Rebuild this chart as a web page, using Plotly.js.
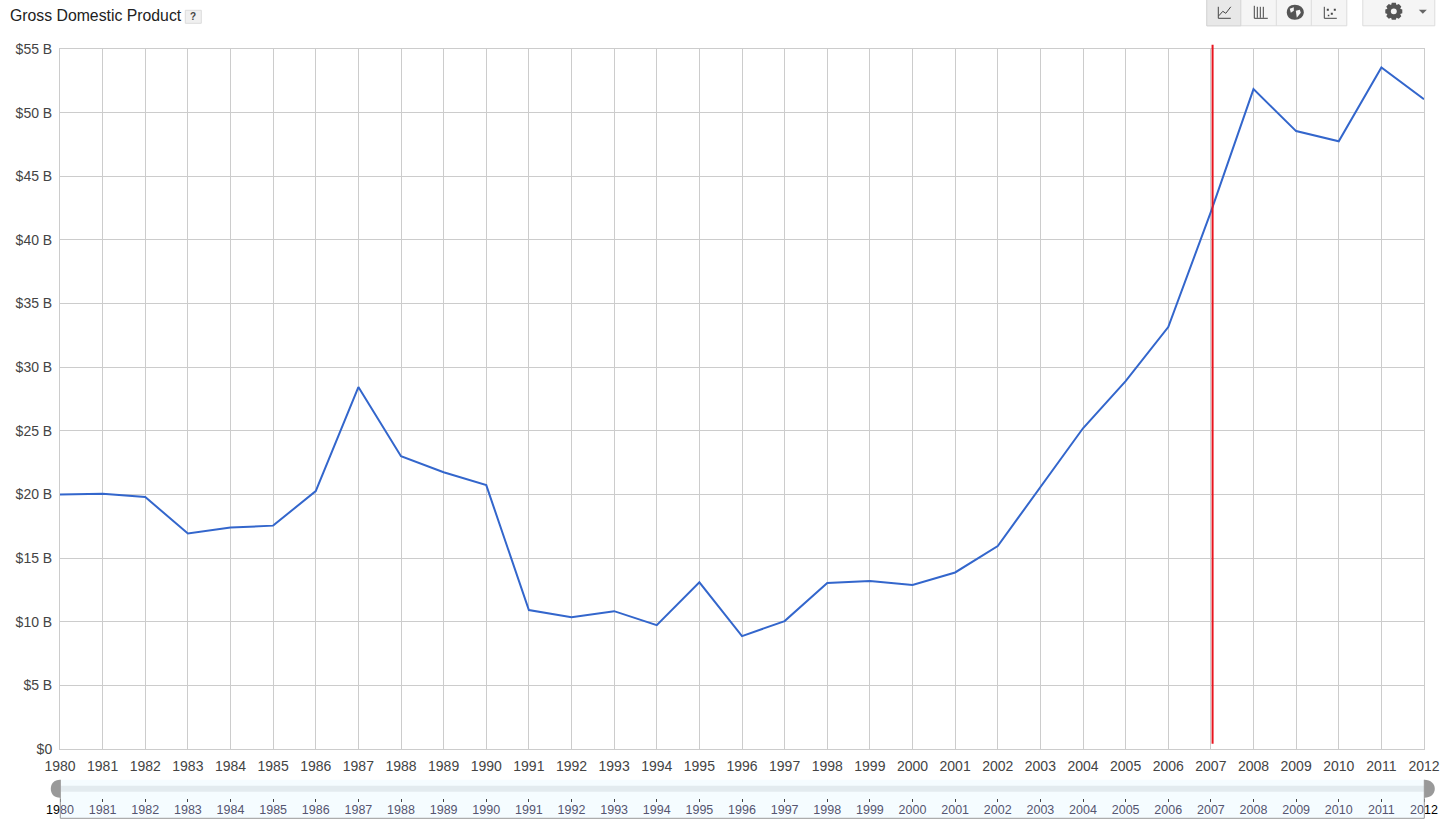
<!DOCTYPE html>
<html><head><meta charset="utf-8">
<script src="https://cdn.plot.ly/plotly-3.0.1.min.js"></script>
<style>html,body{margin:0;padding:0;background:#fff;overflow:hidden}#c{width:1440px;height:826px}</style>
</head><body><div id="c"></div>
<script>
const years=[1980,1981,1982,1983,1984,1985,1986,1987,1988,1989,1990,1991,1992,1993,1994,1995,1996,1997,1998,1999,2000,2001,2002,2003,2004,2005,2006,2007,2008,2009,2010,2011,2012];
const gdpBillions=[20.0,20.05,19.8,16.93,17.4,17.55,20.27,28.44,23.0,21.75,20.73,10.92,10.35,10.83,9.73,13.1,8.87,10.05,13.05,13.2,12.88,13.87,15.95,20.6,25.2,28.9,33.15,42.2,51.85,48.55,47.75,53.55,51.05];
const yTicks=[0,5,10,15,20,25,30,35,40,45,50,55];
const yTickLabels=['$0','$5 B','$10 B','$15 B','$20 B','$25 B','$30 B','$35 B','$40 B','$45 B','$50 B','$55 B'];
const markerYear=2007.04;
const titleText='Gross Domestic Product';
const selectorLabels=years.map(String);
selectorLabels[0]='<span style="color:#000">19</span>80';
selectorLabels[selectorLabels.length-1]='20<span style="color:#000">12</span>';

const L=60.2,R=1424.2,T=49.2,B=819.2;
const fx=p=>(p-L)/(R-L), fy=p=>(B-p)/(B-T);
const font='Arial, "Liberation Sans", sans-serif';
const P=(s)=>s.replace(/(-?[\d.]+),(-?[\d.]+)/g,(m,a,b)=>fx(+a)+','+fy(+b));
const pathShape=(d,o)=>Object.assign({type:'path',xref:'paper',yref:'paper',path:P(d),line:{width:0}},o);
const rect=(x0,y0,x1,y1,fill,line)=>({type:'rect',xref:'paper',yref:'paper',x0:fx(x0),x1:fx(x1),y0:fy(y0),y1:fy(y1),fillcolor:fill,line:line||{width:0},layer:'below'});
const stroke=(d,c,w)=>pathShape(d,{line:{color:c,width:w||1},fillcolor:'rgba(0,0,0,0)'});

const shapes=[
 rect(60.5,780,1424.5,818.5,'#f5fcff'),
 rect(60.5,786,1424.5,792,'#e3ebef'),
 stroke('M60.5,780 L60.5,818.5 L1424.5,818.5 L1424.5,780','#999',1),
 pathShape('M60.5,780 C54,780 51,784 51,789 C51,794 54,798 60.5,798 Z',{fillcolor:'#999'}),
 pathShape('M1424.5,780 C1431,780 1435,784 1435,789 C1435,794 1431,798 1424.5,798 Z',{fillcolor:'#999'}),
 Object.assign(rect(185.5,10.5,201.5,23.5,'#f0f0f0',{color:'#dcdcdc',width:1}),{layer:'above'}),
 Object.assign(rect(1207,-2,1347,26,'#f5f5f5',{color:'#dcdcdc',width:1}),{layer:'above'}),
 Object.assign(rect(1207,-2,1241,26,'#e8e8e8',{color:'#d4d4d4',width:1}),{layer:'above'}),
 stroke('M1276.5,0 L1276.5,26','#dcdcdc',1),
 stroke('M1311.5,0 L1311.5,26','#dcdcdc',1),
 Object.assign(rect(1363,-2,1435,26,'#f5f5f5',{color:'#dcdcdc',width:1}),{layer:'above'}),
 stroke('M1218.5,7 L1218.5,18.5 L1231,18.5','#444',1),
 stroke('M1219,16 L1223,11.5 L1226,13.5 L1231,7','#444',1),
 stroke('M1254.5,6 L1254.5,18.5 L1268,18.5','#444',1),
 stroke('M1257.5,18 L1257.5,7 M1260.5,18 L1260.5,7 M1263.5,18 L1263.5,7','#444',1),
 pathShape('M1295,5 C1300,5 1304,8 1304,12.5 C1304,17 1300,20 1295,20 C1290,20 1287,17 1287,12.5 C1287,8 1290,5 1295,5 Z',{fillcolor:'#555'}),
 pathShape('M1290,9 L1294,7.5 L1294,11 L1291,13 Z M1296,11 L1300,10 L1301,13 L1297,18 Z',{fillcolor:'#f5f5f5'}),
 stroke('M1324.5,7 L1324.5,18.5 L1337,18.5','#444',1),
 pathShape('M1327,9 L1329,9 L1329,11 L1327,11 Z M1331,13 L1333,13 L1333,15 L1331,15 Z M1334,9 L1336,9 L1336,11 L1334,11 Z M1328,15 L1329.5,15 L1329.5,16.5 L1328,16.5 Z',{fillcolor:'#444'}),
 pathShape('M1392,3 L1396,3 L1396.7,5.3 L1399,4.3 L1401.5,6.8 L1400.4,9 L1402.5,9.8 L1402.5,13.4 L1400.4,14.2 L1401.5,16.4 L1399,18.9 L1396.7,17.9 L1396,20 L1392,20 L1391.3,17.9 L1389,18.9 L1386.5,16.4 L1387.6,14.2 L1385.5,13.4 L1385.5,9.8 L1387.6,9 L1386.5,6.8 L1389,4.3 L1391.3,5.3 Z M1394,8.8 C1392,8.8 1391,10 1391,11.6 C1391,13.2 1392,14.4 1394,14.4 C1396,14.4 1397,13.2 1397,11.6 C1397,10 1396,8.8 1394,8.8 Z',{fillcolor:'#555'}),
 pathShape('M1419,10 L1427,10 L1423,14 Z',{fillcolor:'#666'}),
 {type:'line',xref:'x',yref:'paper',x0:markerYear,x1:markerYear,y0:fy(744),y1:fy(45),line:{color:'#e8141e',width:2},layer:'above'}
];

const annotations=[
 {xref:'paper',yref:'paper',x:fx(8),y:fy(15.5),xanchor:'left',yanchor:'middle',text:titleText,showarrow:false,font:{family:font,size:15.8,color:'#222'}},
 {xref:'paper',yref:'paper',x:fx(193.5),y:fy(17),xanchor:'center',yanchor:'middle',text:'<b>?</b>',showarrow:false,font:{family:font,size:10,color:'#444'}}
];

const traces=[
 {x:years,y:gdpBillions,type:'scatter',mode:'lines',line:{color:'#3366cc',width:2},hoverinfo:'x+y',showlegend:false},
 {x:years,y:gdpBillions,xaxis:'x2',yaxis:'y2',type:'scatter',mode:'lines',line:{color:'rgba(0,0,0,0)',width:0},hoverinfo:'skip',showlegend:false}
];

const layout={
 width:1440,height:826,autosize:false,
 margin:{l:L,r:1440-R,t:T,b:826-B,pad:0},
 paper_bgcolor:'#fff',plot_bgcolor:'rgba(0,0,0,0)',
 showlegend:false,
 font:{family:font,color:'#444'},
 xaxis:{domain:[0,1],range:[years[0],years[years.length-1]],tickmode:'array',tickvals:years,ticktext:years.map(String),
  showgrid:true,gridcolor:'#cccccc',gridwidth:1,showline:true,linecolor:'#cccccc',mirror:true,zeroline:false,ticklabeloverflow:'allow',
  ticks:'outside',ticklen:4,tickcolor:'rgba(0,0,0,0)',tickangle:0,tickfont:{family:font,size:14,color:'#444'},anchor:'y'},
 yaxis:{domain:[fy(749.2),1],range:[0,55],tickmode:'array',tickvals:yTicks,ticktext:yTickLabels,
  showgrid:true,gridcolor:'#cccccc',gridwidth:1,showline:true,linecolor:'#cccccc',mirror:true,zeroline:false,
  ticks:'outside',ticklen:4,tickcolor:'rgba(0,0,0,0)',tickfont:{family:font,size:14,color:'#444'},anchor:'x'},
 xaxis2:{domain:[0,1],range:[years[0],years[years.length-1]],tickmode:'array',tickvals:years,ticktext:selectorLabels,
  anchor:'free',position:fy(798),showgrid:false,zeroline:false,showline:false,ticklabelstandoff:-3,ticklabeloverflow:'allow',
  ticks:'outside',ticklen:3,tickcolor:'#444',tickwidth:1,tickangle:0,tickfont:{family:font,size:12.5,color:'#555570'}},
 yaxis2:{domain:[0,fy(780)],range:[0,60],visible:false,anchor:'x2',fixedrange:true},
 shapes,annotations
};
Plotly.newPlot('c',traces,layout,{displayModeBar:false,responsive:false,staticPlot:true});
</script></body></html>
